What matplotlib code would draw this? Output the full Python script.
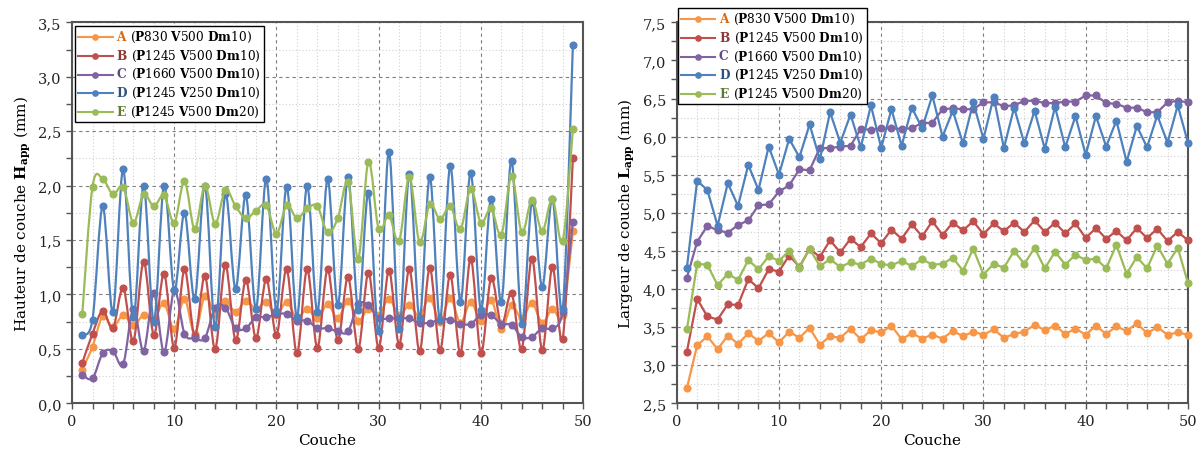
# Hauteur et largeur de couche en fonction du numéro de couche
import numpy as np
import matplotlib.pyplot as plt
from matplotlib.path import Path
from matplotlib.patches import PathPatch
from matplotlib.ticker import MultipleLocator, FuncFormatter
from matplotlib.offsetbox import AnchoredOffsetbox, VPacker, HPacker, TextArea, DrawingArea
from matplotlib.lines import Line2D

plt.rcParams['font.family'] = 'DejaVu Serif'
plt.rcParams['mathtext.fontset'] = 'dejavuserif'

# Données
couches_h = np.arange(1, 50)
couches_l = np.arange(1, 51)

lettres = ['A', 'B', 'C', 'D', 'E']
params = [('830', '500', '10'), ('1245', '500', '10'), ('1660', '500', '10'),
          ('1245', '250', '10'), ('1245', '500', '20')]

h_A = [0.31, 0.52, 0.80, 0.70, 0.81, 0.72, 0.81, 0.77, 0.92, 0.68,
       0.96, 0.64, 0.99, 0.82, 0.94, 0.84, 0.94, 0.87, 0.93, 0.81,
       0.93, 0.78, 0.87, 0.78, 0.91, 0.78, 0.94, 0.76, 0.87, 0.81,
       0.96, 0.81, 0.90, 0.80, 0.97, 0.75, 0.97, 0.74, 0.93, 0.76,
       0.95, 0.68, 0.90, 0.78, 0.92, 0.74, 0.87, 0.81, 1.58]
h_B = [0.37, 0.64, 0.85, 0.69, 1.06, 0.57, 1.30, 0.63, 1.19, 0.51,
       1.23, 0.62, 1.17, 0.50, 1.27, 0.58, 1.13, 0.60, 1.14, 0.63,
       1.23, 0.46, 1.23, 0.51, 1.23, 0.58, 1.16, 0.50, 1.20, 0.51,
       1.22, 0.54, 1.23, 0.48, 1.24, 0.49, 1.18, 0.46, 1.33, 0.46,
       1.15, 0.72, 1.01, 0.50, 1.33, 0.49, 1.25, 0.59, 2.25]
h_C = [0.26, 0.23, 0.46, 0.48, 0.36, 0.87, 0.48, 1.01, 0.47, 1.04,
       0.64, 0.60, 0.60, 0.88, 0.88, 0.69, 0.69, 0.79, 0.79, 0.82,
       0.82, 0.76, 0.76, 0.69, 0.69, 0.66, 0.66, 0.91, 0.90, 0.78,
       0.78, 0.78, 0.78, 0.74, 0.74, 0.77, 0.77, 0.73, 0.73, 0.81,
       0.81, 0.73, 0.72, 0.61, 0.61, 0.69, 0.69, 0.84, 1.67]
h_D = [0.63, 0.77, 1.81, 0.84, 2.15, 0.79, 2.00, 0.75, 2.00, 1.04,
       1.75, 0.96, 2.00, 0.70, 1.92, 1.05, 1.91, 0.87, 2.06, 0.85,
       1.99, 0.79, 2.00, 0.84, 2.06, 0.90, 2.08, 0.86, 1.93, 0.66,
       2.31, 0.68, 2.11, 0.78, 2.08, 0.77, 2.18, 0.93, 2.12, 0.86,
       1.88, 0.93, 2.23, 0.73, 1.85, 1.07, 1.88, 0.87, 3.29]
h_E = [0.82, 1.99, 2.06, 1.92, 1.99, 1.66, 1.92, 1.81, 1.91, 1.66,
       2.04, 1.60, 2.00, 1.65, 1.96, 1.81, 1.70, 1.77, 1.82, 1.56,
       1.82, 1.70, 1.79, 1.81, 1.57, 1.70, 2.03, 1.33, 2.22, 1.60,
       1.73, 1.49, 2.08, 1.48, 1.83, 1.69, 1.81, 1.60, 1.97, 1.66,
       1.79, 1.55, 2.09, 1.57, 1.87, 1.58, 1.88, 1.49, 2.52]

l_A = [2.70, 3.26, 3.38, 3.21, 3.39, 3.28, 3.42, 3.32, 3.42, 3.30,
       3.44, 3.36, 3.49, 3.27, 3.38, 3.36, 3.48, 3.34, 3.46, 3.43,
       3.52, 3.34, 3.42, 3.35, 3.40, 3.35, 3.45, 3.38, 3.44, 3.40,
       3.47, 3.36, 3.41, 3.44, 3.53, 3.46, 3.52, 3.41, 3.48, 3.40,
       3.52, 3.41, 3.51, 3.45, 3.55, 3.42, 3.50, 3.40, 3.43, 3.40]
l_B = [3.18, 3.87, 3.64, 3.60, 3.80, 3.79, 4.13, 4.01, 4.26, 4.23,
       4.44, 4.29, 4.53, 4.42, 4.64, 4.48, 4.66, 4.55, 4.73, 4.60,
       4.78, 4.66, 4.85, 4.69, 4.89, 4.71, 4.87, 4.77, 4.89, 4.72,
       4.86, 4.76, 4.87, 4.75, 4.90, 4.75, 4.87, 4.73, 4.86, 4.67,
       4.80, 4.66, 4.76, 4.64, 4.80, 4.67, 4.79, 4.63, 4.75, 4.64]
l_C = [4.15, 4.62, 4.83, 4.77, 4.74, 4.84, 4.90, 5.10, 5.11, 5.28,
       5.36, 5.57, 5.56, 5.85, 5.85, 5.87, 5.88, 6.10, 6.09, 6.11,
       6.11, 6.10, 6.11, 6.18, 6.18, 6.36, 6.37, 6.36, 6.36, 6.45,
       6.45, 6.40, 6.41, 6.47, 6.47, 6.44, 6.44, 6.46, 6.46, 6.54,
       6.54, 6.44, 6.43, 6.38, 6.38, 6.32, 6.32, 6.45, 6.47, 6.45]
l_D = [4.28, 5.42, 5.30, 4.83, 5.39, 5.09, 5.63, 5.30, 5.87, 5.50,
       5.97, 5.73, 6.16, 5.70, 6.32, 5.92, 6.29, 5.86, 6.41, 5.85,
       6.36, 5.88, 6.38, 6.11, 6.54, 6.00, 6.34, 5.91, 6.45, 5.97,
       6.52, 5.85, 6.38, 5.91, 6.34, 5.84, 6.39, 5.86, 6.27, 5.76,
       6.27, 5.87, 6.21, 5.67, 6.14, 5.86, 6.28, 5.92, 6.41, 5.92]
l_E = [3.47, 4.33, 4.32, 4.05, 4.20, 4.12, 4.38, 4.26, 4.43, 4.37,
       4.50, 4.28, 4.53, 4.30, 4.39, 4.29, 4.35, 4.32, 4.40, 4.33,
       4.31, 4.37, 4.30, 4.39, 4.32, 4.33, 4.41, 4.24, 4.53, 4.19,
       4.33, 4.28, 4.50, 4.33, 4.54, 4.27, 4.49, 4.32, 4.45, 4.38,
       4.40, 4.27, 4.58, 4.20, 4.42, 4.27, 4.57, 4.33, 4.54, 4.08]

couleurs = ['#F79646', '#C0504D', '#8064A2', '#4F81BD', '#9BBB59']
couleurs_foncees = ['#D9690F', '#8C3836', '#5F4A85', '#2E527F', '#5E7A2E']


def courbe_lissee(ax, x, y, couleur, z):
    # courbe lissée type Excel (Bezier Catmull-Rom)
    p = np.column_stack([x, y]).astype(float)
    pp = np.vstack([p[0], p, p[-1]])
    verts = [p[0]]
    codes = [Path.MOVETO]
    for i in range(len(p) - 1):
        c1 = pp[i + 1] + (pp[i + 2] - pp[i]) / 6
        c2 = pp[i + 2] - (pp[i + 3] - pp[i + 1]) / 6
        verts += [c1, c2, pp[i + 2]]
        codes += [Path.CURVE4] * 3
    ax.add_patch(PathPatch(Path(verts, codes), fill=False, ec=couleur,
                           lw=1.6, zorder=z, capstyle='round', joinstyle='round'))


def legende(ax, x0, y0):
    lignes = []
    for lettre, (p, v, d), c, cf in zip(lettres, params, couleurs, couleurs_foncees):
        da = DrawingArea(25, 8, 0, 0)
        da.add_artist(Line2D([0, 25], [3.5, 3.5], color=c, lw=1.5))
        da.add_artist(Line2D([12.5], [3.5], marker='o', color=c, ms=3.8))
        t1 = TextArea(lettre, textprops=dict(color=cf, fontweight='bold', size=8.7))
        t2 = TextArea(r'($\mathbf{P}$' + p + r' $\mathbf{V}$' + v + r' $\mathbf{Dm}$' + d + ')',
                      textprops=dict(color='black', size=8.7))
        texte = HPacker(children=[t1, t2], align='baseline', pad=0, sep=3.5)
        lignes.append(HPacker(children=[da, texte], align='center', pad=0, sep=2.5))
    boite = VPacker(children=lignes, align='left', pad=0, sep=2.6)
    leg = AnchoredOffsetbox(loc='upper left', child=boite, pad=0.2, borderpad=0,
                            frameon=True, bbox_to_anchor=(x0, y0),
                            bbox_transform=ax.transAxes)
    leg.patch.set_edgecolor('black')
    leg.patch.set_linewidth(1.0)
    leg.patch.set_boxstyle('square', pad=0)
    leg.zorder = 20
    ax.add_artist(leg)


def mise_en_forme(ax, ymin, ymax, ylabel):
    ax.set_xlim(0, 50)
    ax.set_ylim(ymin, ymax)
    ax.xaxis.set_major_locator(MultipleLocator(10))
    ax.xaxis.set_minor_locator(MultipleLocator(2))
    ax.yaxis.set_major_locator(MultipleLocator(0.5))
    ax.yaxis.set_minor_locator(MultipleLocator(0.25))
    ax.yaxis.set_major_formatter(FuncFormatter(lambda v, pos: f'{v:.1f}'.replace('.', ',')))
    ax.grid(which='major', color='#7f7f7f', linestyle=(0, (3, 3)), lw=0.8)
    ax.grid(which='minor', color='#d0d0d0', linestyle=(0, (1, 2)), lw=0.8)
    ax.set_axisbelow(True)
    ax.tick_params(which='both', direction='out', length=4, width=1, color='#555555',
                   labelsize=10.5, labelcolor='#222222')
    for s in ax.spines.values():
        s.set_color('#555555')
        s.set_linewidth(1.5)
    ax.set_xlabel('Couche', fontsize=11)
    ax.set_ylabel(ylabel, fontsize=11)


fig = plt.figure(figsize=(12.03, 4.6), dpi=100)
ax1 = fig.add_axes([0.0599, 0.121, 0.4248, 0.8283])
ax2 = fig.add_axes([0.5625, 0.121, 0.425, 0.8283])

# Hauteur de couche (courbes lissées)
for k, (y, c) in enumerate(zip([h_A, h_B, h_C, h_D, h_E], couleurs)):
    courbe_lissee(ax1, couches_h, y, c, 3 + 2 * k)
    ax1.plot(couches_h, y, 'o', color=c, ms=4.8, zorder=4 + 2 * k, clip_on=False)
mise_en_forme(ax1, 0, 3.5, r'Hauteur de couche $\mathbf{H_{app}}$ (mm)')
legende(ax1, 0.006, 0.99)

# Largeur de couche
for k, (y, c) in enumerate(zip([l_A, l_B, l_C, l_D, l_E], couleurs)):
    ax2.plot(couches_l, y, '-o', color=c, lw=1.6, ms=4.8, zorder=3 + k, clip_on=False)
mise_en_forme(ax2, 2.5, 7.5, r'Largeur de couche $\mathbf{L_{app}}$ (mm)')
legende(ax2, 0.0025, 1.037)

fig.savefig('out.png', dpi=100)
